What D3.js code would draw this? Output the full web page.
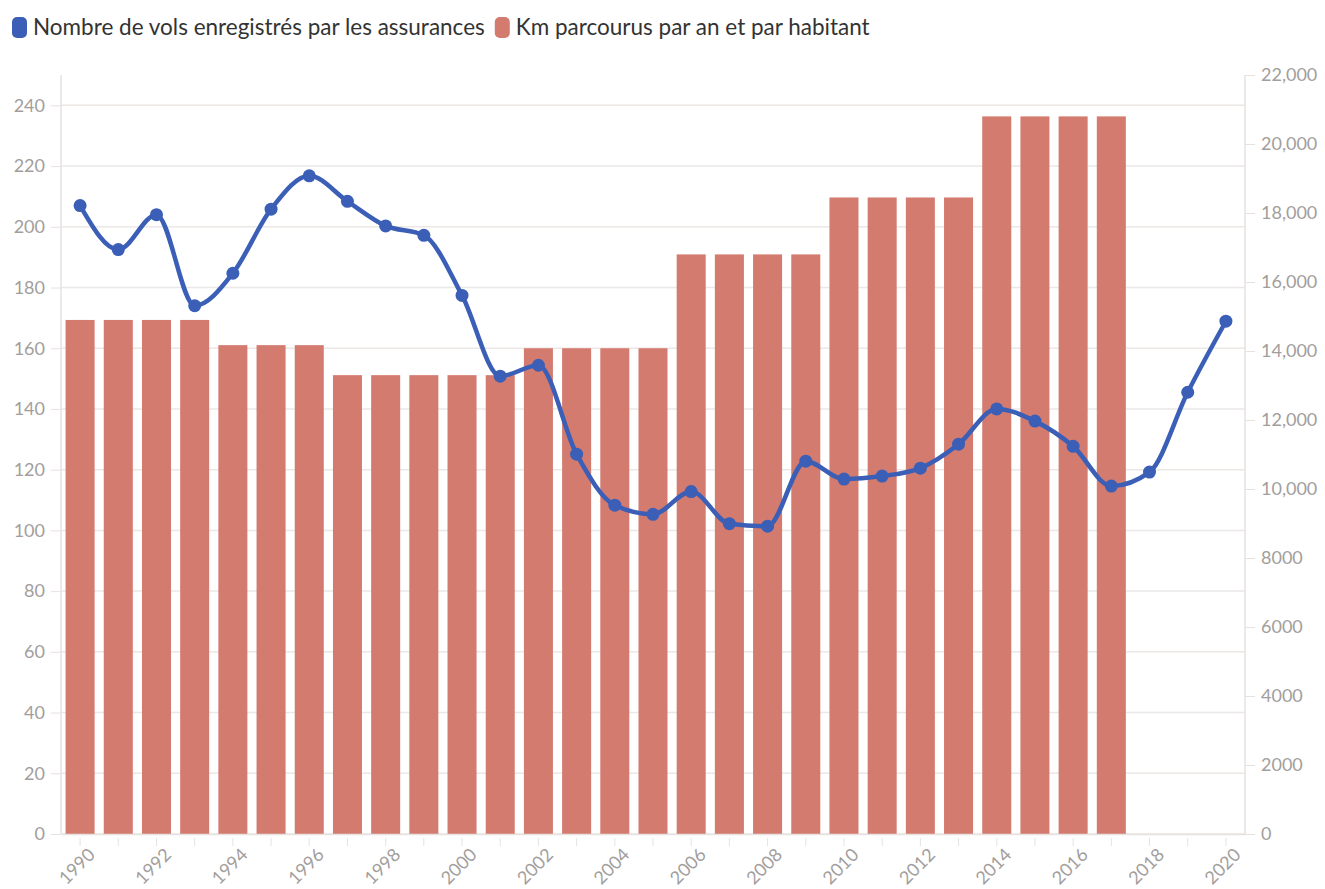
<!DOCTYPE html>
<html>
<head>
<meta charset="utf-8">
<script src="https://cdn.jsdelivr.net/npm/d3@7"></script>
<style>
  body { margin: 0; background: #fff; font-family: Lato, "Noto Sans", sans-serif; }
  .axis text { fill: #a29e9c; font-size: 18px; font-family: Lato, sans-serif; }
  .axis path, .axis line { stroke: #e6e2e0; }
</style>
</head>
<body>
<svg id="chart" width="1325" height="889"></svg>
<script>
const years = d3.range(1990, 2021);
// nombre de vols (axe gauche)
const vols = [207, 192.5, 204, 174, 184.7, 205.8, 216.8, 208.4, 200.3, 197.2,
  177.4, 150.8, 154.4, 125.1, 108.3, 105.3, 112.8, 102.2, 101.4, 122.8,
  116.9, 117.9, 120.5, 128.4, 140, 136, 127.7, 114.6, 119.2, 145.5, 168.9];
// km par an et par habitant (axe droit), pas de donnée après 2017
const km = [14900, 14900, 14900, 14900, 14170, 14170, 14170, 13300, 13300, 13300,
  13300, 13300, 14080, 14080, 14080, 14080, 16800, 16800, 16800, 16800,
  18450, 18450, 18450, 18450, 20800, 20800, 20800, 20800, null, null, null];
const leftTicks = d3.range(0, 241, 20);
const rightTicks = d3.range(0, 22001, 2000);
const legendItems = [
  {label: "Nombre de vols enregistrés par les assurances", color: "#3b5fb6"},
  {label: "Km parcourus par an et par habitant", color: "#d47b70"}
];

const svg = d3.select("#chart");
const margin = {top: 75, right: 80, bottom: 55, left: 61};
const width = 1325 - margin.left - margin.right;
const height = 889 - margin.top - margin.bottom;

const g = svg.append("g").attr("transform", `translate(${margin.left},${margin.top})`);

const x = d3.scaleBand().domain(years).range([0, width]).paddingInner(0.24).paddingOuter(0.12);
const yL = d3.scaleLinear().domain([0, 250]).range([height, 0]);
const yR = d3.scaleLinear().domain([0, 22000]).range([height, 0]);

// gridlines
g.append("g")
  .selectAll("line")
  .data(leftTicks)
  .join("line")
    .attr("x1", 0).attr("x2", width)
    .attr("y1", d => yL(d)).attr("y2", d => yL(d))
    .attr("stroke", "#ebe8e6").attr("stroke-width", 1.5);

// bars
g.append("g")
  .selectAll("rect")
  .data(years.map((yr, i) => ({yr, v: km[i]})).filter(d => d.v != null))
  .join("rect")
    .attr("x", d => x(d.yr))
    .attr("width", x.bandwidth())
    .attr("y", d => yR(d.v))
    .attr("height", d => height - yR(d.v))
    .attr("fill", "#d47b70");

// axes
const leftAxis = g.append("g").attr("class", "axis")
  .call(d3.axisLeft(yL).tickValues(leftTicks).tickSize(10).tickPadding(6).tickSizeOuter(0));
leftAxis.select(".domain").attr("d", `M0,0V${height}`).attr("stroke-width", 1.5);

const rightAxis = g.append("g").attr("class", "axis")
  .attr("transform", `translate(${width},0)`)
  .call(d3.axisRight(yR).tickValues(rightTicks).tickSize(10).tickPadding(6).tickSizeOuter(0)
    .tickFormat(d => d >= 10000 ? d3.format(",")(d) : d));
rightAxis.select(".domain").attr("d", `M0,0V${height}`).attr("stroke-width", 1.5);

const xAxis = g.append("g").attr("class", "axis")
  .attr("transform", `translate(0,${height})`)
  .call(d3.axisBottom(x).tickSize(12).tickSizeOuter(0).tickFormat(d => d % 2 === 0 ? d : ""));
xAxis.select(".domain").attr("stroke-width", 1.5);
xAxis.selectAll(".tick line").attr("y1", 4).attr("stroke", "#eceae8");
xAxis.selectAll("text")
  .attr("x", 0)
  .attr("y", 0)
  .attr("text-anchor", "end")
  .attr("dy", "0.7em")
  .attr("font-size", 16.5)
  .attr("transform", "translate(7,13) rotate(-45)");

// line
const line = d3.line()
  .x((d, i) => x(years[i]) + x.bandwidth() / 2)
  .y(d => yL(d))
  .curve(d3.curveMonotoneX);

g.append("path")
  .datum(vols)
  .attr("d", line)
  .attr("fill", "none")
  .attr("stroke", "#3b5fb6")
  .attr("stroke-width", 4.5);

g.append("g")
  .selectAll("circle")
  .data(vols)
  .join("circle")
    .attr("cx", (d, i) => x(years[i]) + x.bandwidth() / 2)
    .attr("cy", d => yL(d))
    .attr("r", 6.5)
    .attr("fill", "#3b5fb6");

// legend
const legend = svg.append("g").attr("transform", "translate(12,17)");
let lx = 0;
legendItems.forEach(item => {
  const it = legend.append("g").attr("transform", `translate(${lx},0)`);
  it.append("rect").attr("width", 15).attr("height", 21).attr("rx", 5).attr("fill", item.color);
  const t = it.append("text").attr("x", 21).attr("y", 18)
    .attr("font-size", 22.5).attr("fill", "#333").text(item.label);
  lx += 21 + t.node().getComputedTextLength() + 10;
});
</script>
</body>
</html>
